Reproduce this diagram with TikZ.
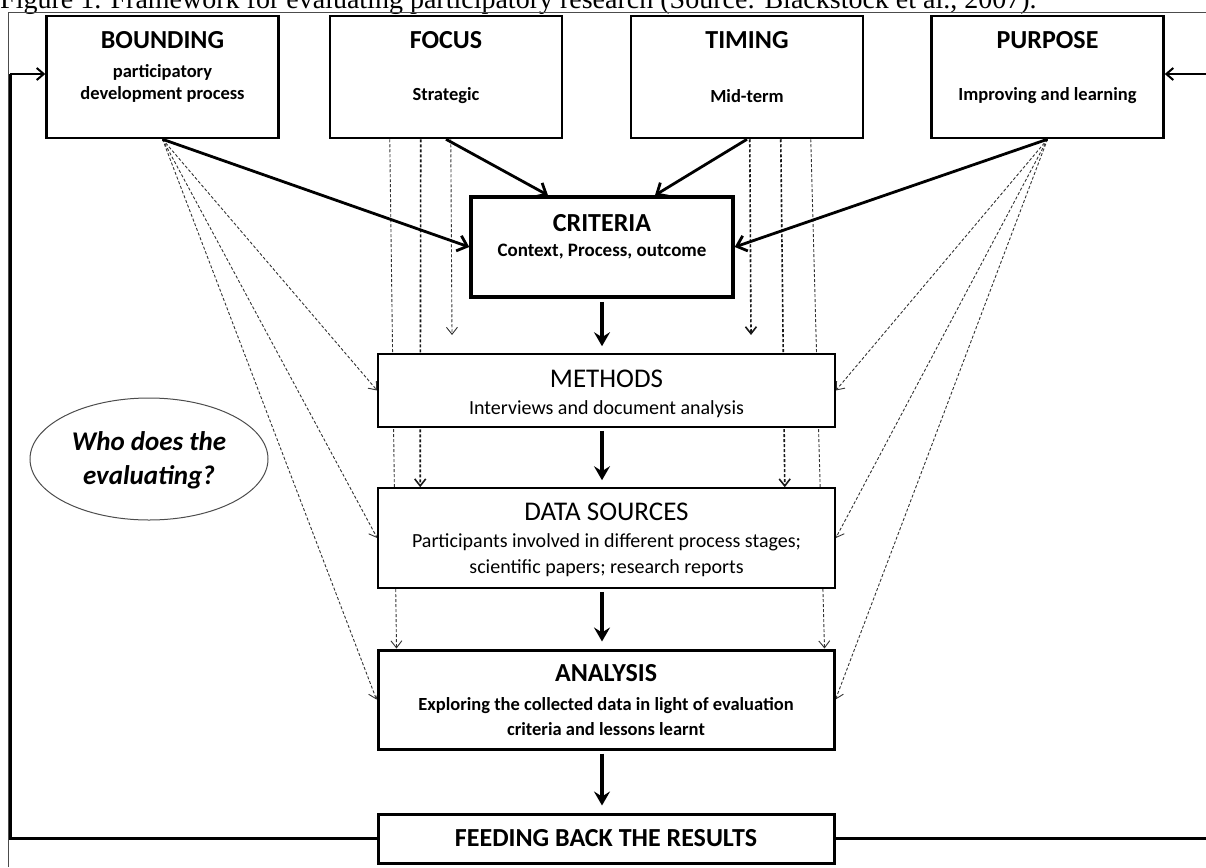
\documentclass[tikz,border=0pt]{standalone}
\usepackage{fontspec}
\setmainfont{Carlito}
\newfontfamily\capfont{Liberation Serif}
\usetikzlibrary{arrows.meta,shapes.geometric,calc,backgrounds}

\begin{document}
\begin{tikzpicture}[x=1pt,y=-1pt,
  topbox/.style={draw, line width=2.5pt, minimum width=232pt, minimum height=122pt, inner sep=0pt},
  midbox/.style={draw, fill=white, line width=1.6pt, minimum width=457pt, inner sep=0pt},
  heavybox/.style={draw, fill=white, line width=3pt, minimum width=456pt, inner sep=0pt},
  tarrow/.style={line width=3.6pt, shorten <=3pt, shorten >=7pt, -{Stealth[length=14pt,width=16pt,inset=5pt]}},
  darrow/.style={line width=2.8pt, -{Straight Barb[length=9pt,width=16pt]}},
  dasharrow/.style={line width=0.9pt, gray!40!black, dash pattern=on 3pt off 2pt, -{Straight Barb[length=7pt,width=11pt]}},
  darkdash/.style={line width=1.6pt, black!90, dash pattern=on 3pt off 2pt, -{Straight Barb[length=7pt,width=11pt]}},
  loopline/.style={line width=3pt, black},
  ttl/.style={inner sep=0pt, font=\fontsize{26}{30}\selectfont\bfseries},
  sub/.style={inner sep=0pt, align=center, font=\fontsize{18.5}{22}\selectfont\bfseries},
  rttl/.style={inner sep=0pt, font=\fontsize{27}{30}\selectfont},
  rsub/.style={inner sep=0pt, align=center, font=\fontsize{20}{26}\selectfont},
  bsub/.style={inner sep=0pt, align=center, font=\fontsize{18.5}{25}\selectfont\bfseries},
]
\useasboundingbox (0,0) rectangle (1206,867);

% caption (top cut off in the reference)
\node[anchor=base west, inner sep=0pt, font=\capfont\fontsize{28}{28}\selectfont] (cap) at (0,9)
  {Figure 1. Framework for evaluating participatory research (Source: Blackstock et al., 2007).};
\coordinate (frBL) at (8,867);
\coordinate (frTL) at (8,13);
\coordinate (frTR) at (1206,13);
\draw[line width=1pt, gray!60!black] (frBL) -- (frTL) -- (frTR);

% top boxes
\node[topbox] (bounding) at (162.5,77) {};
\node[topbox] (focus) at (446,77) {};
\node[topbox] (timing) at (747,77) {};
\node[topbox] (purpose) at (1047.5,77) {};
\node[ttl] (boundingT) at (162.5,40) {BOUNDING};
\node[sub] (boundingS) at (162.5,83) {participatory\\development process};
\node[ttl] (focusT) at (446,40) {FOCUS};
\node[sub] (focusS) at (446,96) {Strategic};
\node[ttl] (timingT) at (747,40) {TIMING};
\node[sub] (timingS) at (747,96) {Mid-term};
\node[ttl] (purposeT) at (1047.5,40) {PURPOSE};
\node[sub] (purposeS) at (1047.5,96) {Improving and learning};

% criteria
\node[draw, fill=white, line width=3.5pt, minimum width=262pt, minimum height=100pt, inner sep=0pt] (criteria) at (602,247) {};
\node[ttl] (criteriaT) at (602,223) {CRITERIA};
\node[sub, font=\fontsize{19}{22}\selectfont\bfseries] (criteriaS) at (602,252) {Context, Process, outcome};

% methods
\node[midbox, minimum height=73pt] (methods) at (606.5,390.5) {};
\node[rttl] (methodsT) at (606.5,379) {METHODS};
\node[rsub] (methodsS) at (606.5,409) {Interviews and document analysis};

% data sources
\node[midbox, minimum height=100pt] (ds) at (606.5,538) {};
\node[rttl] (dsT) at (606.5,512) {DATA SOURCES};
\node[rsub] (dsS) at (606.5,555) {Participants involved in different process stages;\\scientific papers; research reports};

% analysis
\node[heavybox, minimum height=99pt] (analysis) at (606,699.5) {};
\node[ttl] (analysisT) at (606,673) {ANALYSIS};
\node[bsub] (analysisS) at (606,716.5) {Exploring the collected data in light of evaluation\\criteria and lessons learnt};

% feeding back
\node[heavybox, minimum height=49pt] (feed) at (606,838.5) {};
\node[ttl] (feedT) at (606,838.5) {FEEDING BACK THE RESULTS};

% who does the evaluating
\node[draw, ellipse, line width=1pt, gray!60!black, minimum width=238pt, minimum height=122pt, inner sep=0pt] (who) at (149,459) {};
\node[inner sep=0pt, align=center, font=\fontsize{27}{34}\selectfont\bfseries\itshape] (whoT) at (149,460) {Who does the\\evaluating?};

% dashed connectors (behind boxes)
\coordinate (fe1) at (452,335);
\coordinate (te1) at (751,335);
\begin{pgfonlayer}{background}
\draw[dasharrow] (bounding.south) -- (methods.west);
\draw[dasharrow] (bounding.south) -- (ds.west);
\draw[dasharrow] (bounding.south) -- (analysis.west);
\draw[dasharrow] (purpose.south) -- (methods.east);
\draw[dasharrow] (purpose.south) -- (ds.east);
\draw[dasharrow] (purpose.south) -- (analysis.east);
\draw[dasharrow] ([xshift=61pt]focus.south west) -- ([xshift=20pt]analysis.north west);
\draw[darkdash] ([xshift=92pt]focus.south west) -- ([xshift=43pt]ds.north west);
\draw[dasharrow] ([xshift=122pt]focus.south west) -- (fe1);
\draw[darkdash] ([xshift=120pt]timing.south west) -- (te1);
\draw[darkdash] ([xshift=151pt]timing.south west) -- ([xshift=-51pt]ds.north east);
\draw[dasharrow] ([xshift=181pt]timing.south west) -- ([xshift=-11pt]analysis.north east);
\end{pgfonlayer}

% solid connectors
\draw[darrow] (bounding.south) -- (criteria.west);
\draw[darrow] (focus.south) -- ([xshift=-54pt]criteria.north);
\draw[darrow] (timing.south) -- ([xshift=53pt]criteria.north);
\draw[darrow] (purpose.south) -- (criteria.east);

\draw[tarrow] (criteria.south) -- (criteria.south |- methods.north);
\draw[tarrow] (methods.south -| criteria.south) -- (criteria.south |- ds.north);
\draw[tarrow] (ds.south -| criteria.south) -- (criteria.south |- analysis.north);
\draw[tarrow] (analysis.south -| criteria.south) -- (criteria.south |- feed.north);

% feedback loop
\coordinate (lc) at (10,74);
\coordinate (rc) at (1216,74);
\draw[loopline] (feed.west) -| (lc);
\draw[line width=2pt, -{Straight Barb[length=7pt,width=12pt]}] (lc) -- (lc -| bounding.west);
\draw[loopline] (feed.east) -| (rc);
\draw[line width=2pt, -{Straight Barb[length=7pt,width=12pt]}] (rc) -- (rc -| purpose.east);
\end{tikzpicture}
\end{document}
